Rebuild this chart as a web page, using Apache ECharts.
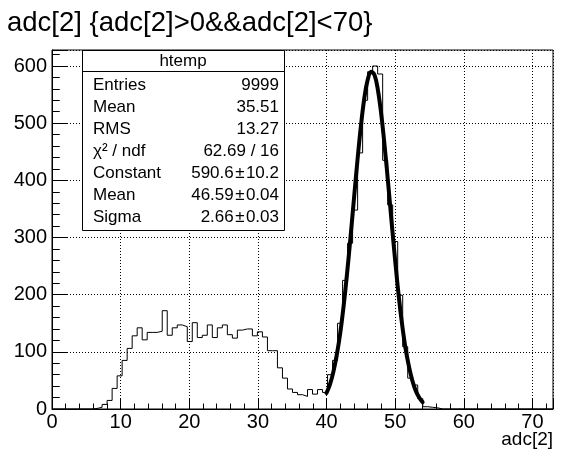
<!DOCTYPE html>
<html>
<head>
<meta charset="utf-8">
<script src="https://cdn.jsdelivr.net/npm/echarts@6/dist/echarts.min.js"></script>
<style>
html,body{margin:0;padding:0;background:#fff;}
#c{width:569px;height:454px;}
</style>
</head>
<body>
<div id="c"></div>
<script>
// ---- data ----
const titleText = 'adc[2] {adc[2]>0&&adc[2]<70}';
const xTitle = 'adc[2]';
const nBins = 100;
const xMin = 0;
const xMax = 73;
const yMax = 628;
const xTickStep = 10;
const yTickStep = 100;
const counts = [
  0,0,0,0,0,0,0,0,1,3,
  8,15,36,58,85,106,128,142,121,134,
  134,136,172,129,142,147,144,118,151,125,
  129,147,125,142,147,130,124,138,140,140,
  128,135,126,102,102,72,54,35,29,25,
  22,34,26,34,29,60,85,150,225,290,
  348,448,540,590,600,586,435,357,293,199,
  109,54,42,18,4,3,2,0,0,0,
  0,0,0,0,0,0,0,0,0,0,
  0,0,0,0,0,0,0,0,0,0
];
const fitX = [40,40.5,41,41.5,42,42.5,43,43.5,44,44.5,45,45.5,46,46.5,47,47.5,48,48.5,49,49.5,50,50.5,51,51.5,52,52.5,53,53.5,54];
const fitY = [28,43,65,95,133,181,238,301,368,434,494,543,576,590,584,557,513,456,392,325,260,200,149,107,75,50,32,20,12];
const statsTitle = 'htemp';
const statsLabels = ['Entries','Mean','RMS','\u03c7\u00b2 / ndf','Constant','Mean','Sigma'];
const statsValues = ['9999','35.51','13.27','62.69 / 16','590.6\u200a\u00b1\u200a10.2','46.59\u200a\u00b1\u200a0.04','2.66\u200a\u00b1\u200a0.03'];

// ---- build ----
const FONT = 'Liberation Sans, Arial, Helvetica, sans-serif';
const binW = (xMax - xMin) / nBins;
const histData = [];
for (let i = 0; i <= nBins; i++) {
  histData.push([xMin + i * binW, counts[Math.min(i, nBins - 1)]]);
}
const fitData = fitX.map((x, i) => [x, fitY[i]]);

const box = {x: 82, y: 50, w: 202, h: 180, head: 21};
const rowY0 = 85, rowStep = 22;
const graphics = [
  {type: 'rect', z: 100, shape: {x: box.x + 0.5, y: box.y + 0.5, width: box.w, height: box.h},
   style: {fill: '#fff', stroke: '#000', lineWidth: 1}},
  {type: 'line', z: 101, shape: {x1: box.x, y1: box.y + box.head + 0.5, x2: box.x + box.w, y2: box.y + box.head + 0.5},
   style: {stroke: '#000', lineWidth: 1}},
  {type: 'text', z: 101, style: {text: statsTitle, x: box.x + box.w / 2, y: box.y + 11, textAlign: 'center', textVerticalAlign: 'middle',
   font: '17px ' + FONT, fill: '#000'}},
  {type: 'text', z: 101, style: {text: xTitle, x: 553, y: 440, textAlign: 'right', textVerticalAlign: 'middle',
   font: '19px ' + FONT, fill: '#000'}}
];
statsLabels.forEach((t, i) => {
  graphics.push({type: 'text', z: 101, style: {text: t, x: 93, y: rowY0 + i * rowStep, textAlign: 'left', textVerticalAlign: 'middle',
    font: '17px ' + FONT, fill: '#000'}});
  graphics.push({type: 'text', z: 101, style: {text: statsValues[i], x: 279, y: rowY0 + i * rowStep, textAlign: 'right', textVerticalAlign: 'middle',
    font: '17px ' + FONT, fill: '#000'}});
});

const chart = echarts.init(document.getElementById('c'), null, {renderer: 'canvas'});
chart.setOption({
  animation: false,
  backgroundColor: '#fff',
  title: {text: titleText, left: 7, top: 9, padding: 0,
    textStyle: {fontSize: 27.5, fontWeight: 'normal', color: '#000', fontFamily: FONT}},
  grid: {left: 52, right: 16, top: 50, bottom: 45, show: true, borderColor: '#000', borderWidth: 1, containLabel: false},
  xAxis: {
    type: 'value', min: xMin, max: xMax, interval: xTickStep,
    axisLine: {show: true, onZero: false, lineStyle: {color: '#000', width: 1}},
    axisTick: {show: true, inside: true, length: 11, lineStyle: {color: '#000', width: 1}},
    minorTick: {show: true, splitNumber: 5, length: 5.5, lineStyle: {color: '#000', width: 1}},
    axisLabel: {color: '#000', fontSize: 20, fontFamily: FONT, margin: 3, showMaxLabel: false},
    splitLine: {show: true, lineStyle: {color: '#000', width: 1, type: [1, 2]}}
  },
  yAxis: {
    type: 'value', min: 0, max: yMax, interval: yTickStep,
    axisLine: {show: true, onZero: false, lineStyle: {color: '#000', width: 1}},
    axisTick: {show: true, inside: true, length: 15.5, lineStyle: {color: '#000', width: 1}},
    minorTick: {show: true, splitNumber: 5, length: 7.75, lineStyle: {color: '#000', width: 1}},
    axisLabel: {color: '#000', fontSize: 20, fontFamily: FONT, margin: 5, showMaxLabel: false},
    splitLine: {show: true, lineStyle: {color: '#000', width: 1, type: [1, 2]}}
  },
  series: [
    {type: 'line', data: histData, step: 'end', symbol: 'none', z: 3,
     lineStyle: {color: '#000', width: 1}},
    {type: 'line', data: fitData, smooth: 0.4, symbol: 'none', z: 4,
     lineStyle: {color: '#000', width: 4, cap: 'round', join: 'round'}}
  ],
  graphic: graphics
});
</script>
</body>
</html>
